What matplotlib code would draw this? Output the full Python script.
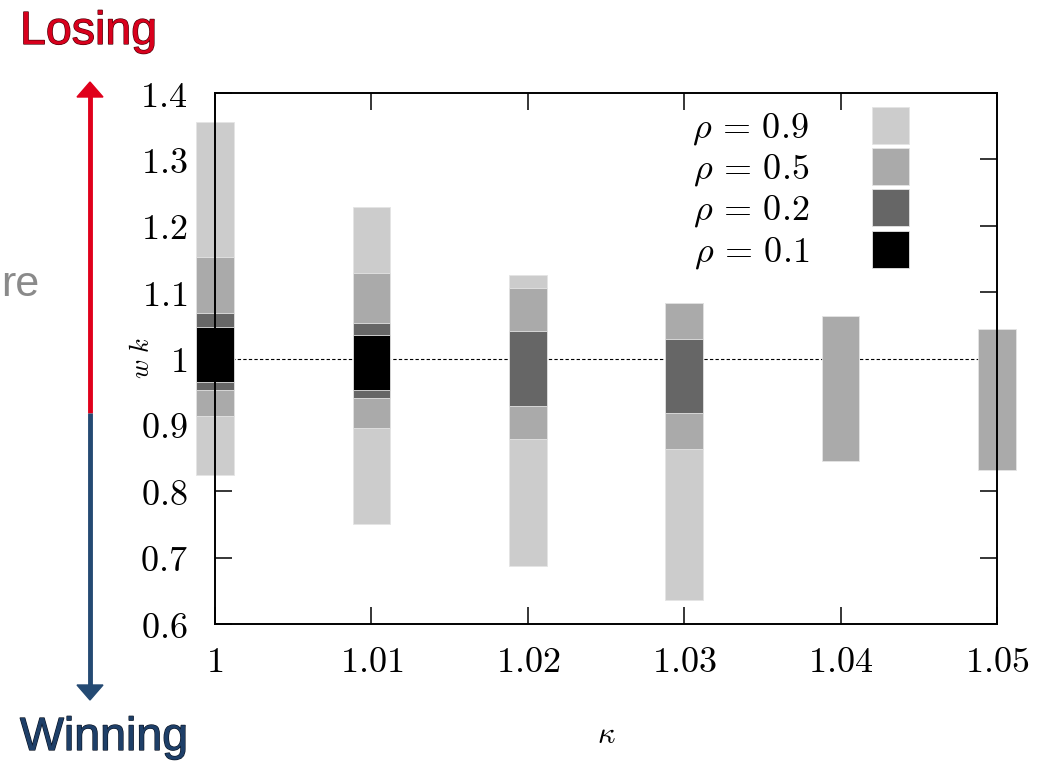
import numpy as np
import matplotlib
matplotlib.use('Agg')
import matplotlib.pyplot as plt
from matplotlib.patches import Patch, Polygon
from matplotlib.lines import Line2D
import matplotlib.patheffects as pe

plt.rcParams['mathtext.fontset'] = 'cm'
plt.rcParams['font.family'] = ['DejaVu Serif']

# ---------------- data ----------------
kappa = [1.00, 1.01, 1.02, 1.03, 1.04, 1.05]
rho_labels = ['0.9', '0.5', '0.2', '0.1']
rho_colors = ['#cccccc', '#aaaaaa', '#666666', '#000000']
nan = np.nan
rho09_low = [0.825, 0.750, 0.688, 0.636, nan, nan]
rho09_high = [1.356, 1.229, 1.126, 1.084, nan, nan]
rho05_low = [0.914, 0.896, 0.879, 0.863, 0.845, 0.832]
rho05_high = [1.153, 1.129, 1.106, 1.084, 1.064, 1.044]
rho02_low = [0.953, 0.941, 0.929, 0.918, nan, nan]
rho02_high = [1.068, 1.054, 1.042, 1.030, nan, nan]
rho01_low = [0.964, 0.952, nan, nan, nan, nan]
rho01_high = [1.047, 1.035, nan, nan, nan, nan]
xticks = [1.00, 1.01, 1.02, 1.03, 1.04, 1.05]
yticks = [0.6, 0.7, 0.8, 0.9, 1.0, 1.1, 1.2, 1.3, 1.4]
reference_level = 1.0

W, H = 1048, 763
fig = plt.figure(figsize=(W / 100, H / 100), dpi=100)
ax = fig.add_axes([215 / W, 1 - 624 / H, (997 - 215) / W, (624 - 93) / H])

ranges = [(rho09_low, rho09_high), (rho05_low, rho05_high),
          (rho02_low, rho02_high), (rho01_low, rho01_high)]
handles = []
for (lo, hi), col, lab in zip(ranges, rho_colors, rho_labels):
    lo = np.array(lo); hi = np.array(hi); k = np.array(kappa)
    m = ~np.isnan(lo)
    ax.bar(k[m], hi[m] - lo[m], bottom=lo[m], width=0.0024, color=col,
           edgecolor='#e4e4e4', linewidth=0.6, clip_on=False, zorder=2)
    handles.append(Patch(facecolor=col, edgecolor='#e4e4e4', linewidth=0.6,
                         label=r'$\rho\,=\,%s$' % lab))

ax.axhline(reference_level, color='black', lw=0.8, ls=(0, (3, 2)), zorder=1)

ax.set_xlim(1.0, 1.05)
ax.set_ylim(0.6, 1.4)
ax.set_xticks(xticks)
ax.set_yticks(yticks)
ax.set_xticklabels([r'$%g$' % v for v in xticks])
ax.set_yticklabels([r'$%g$' % v for v in yticks])
ax.tick_params(direction='in', top=True, right=True, length=12, width=1.1,
               labelsize=26)
ax.tick_params(axis='x', pad=15)
ax.tick_params(axis='y', pad=20)
for s in ax.spines.values():
    s.set_linewidth(1.4)
    s.set_zorder(5)

ax.set_xlabel(r'$\kappa$', fontsize=22)
ax.xaxis.set_label_coords(0.5, -0.178)
ax.set_ylabel(r'$w\ k$', fontsize=19)
ax.yaxis.set_label_coords(-0.078, 0.5)

leg = ax.legend(handles=handles, loc='upper right', bbox_to_anchor=(0.8875, 0.974),
                frameon=False, markerfirst=False, fontsize=26,
                handlelength=1.025, handleheight=1.2, handletextpad=1.75,
                labelspacing=0.03, borderpad=0, borderaxespad=0)

# ---------------- side annotations ----------------
def fx(px):
    return px / W

def fy(py):
    return 1 - py / H

fig.text(fx(20), fy(44), 'Losing', fontsize=33.5, color='#d8001c',
         family='Liberation Sans', ha='left', va='baseline',
         path_effects=[pe.withStroke(linewidth=0.9, foreground='#4a0008')])
fig.text(fx(20), fy(750), 'Winning', fontsize=33.5, color='#1e3f68',
         family='Liberation Sans', ha='left', va='baseline',
         path_effects=[pe.withStroke(linewidth=0.9, foreground='#0a1424')])
fig.text(fx(1), fy(296), 're', fontsize=31, color='#8a8a8a',
         family='Liberation Sans', ha='left', va='baseline')

red = '#e0001b'
blue = '#244a73'
fig.add_artist(Line2D([fx(90), fx(90)], [fy(95), fy(413)], color=red, lw=3.5,
                      solid_capstyle='butt', transform=fig.transFigure))
fig.add_artist(Line2D([fx(90), fx(90)], [fy(413), fy(688)], color=blue, lw=3.5,
                      solid_capstyle='butt', transform=fig.transFigure))
fig.add_artist(Polygon([[fx(77), fy(97)], [fx(103), fy(97)], [fx(90), fy(82)]],
                       closed=True, color=red, transform=fig.transFigure))
fig.add_artist(Polygon([[fx(77), fy(685)], [fx(103), fy(685)], [fx(90), fy(700)]],
                       closed=True, color=blue, transform=fig.transFigure))

fig.savefig('out.png', dpi=100)
